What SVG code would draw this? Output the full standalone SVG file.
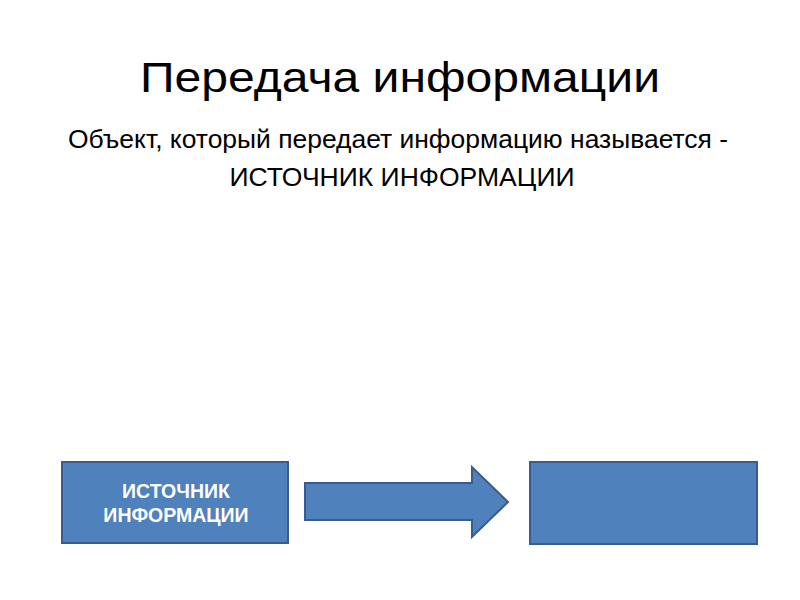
<svg xmlns="http://www.w3.org/2000/svg" width="800" height="600" viewBox="0 0 800 600">
<style>
.t{font-family:"Liberation Sans",Arial,sans-serif;fill:#000}
.shape{fill:#4F81BD;stroke:#385D8A;stroke-width:2}
.lbl{font-family:"Liberation Sans",Arial,sans-serif;font-weight:bold;font-size:19.5px;fill:#fff;text-anchor:middle}
</style>
<rect width="800" height="600" fill="#fff"/>
<text class="t" x="400" y="92" font-size="42" text-anchor="middle" textLength="520" lengthAdjust="spacingAndGlyphs">Передача информации</text>
<text class="t" x="68" y="148" font-size="25" textLength="660" lengthAdjust="spacingAndGlyphs">Объект, который передает информацию называется  -</text>
<text class="t" x="402" y="186" font-size="25" text-anchor="middle" textLength="345" lengthAdjust="spacingAndGlyphs">ИСТОЧНИК ИНФОРМАЦИИ</text>
<g id="source">
<rect class="shape" x="62" y="462" width="226" height="81"/>
<text class="lbl" x="176" y="498">ИСТОЧНИК</text>
<text class="lbl" x="176" y="522">ИНФОРМАЦИИ</text>
</g>
<g id="connectors">
<path class="shape" d="M305,483 H472 V467 L508,502 L472,537 V520 H305 Z"/>
</g>
<g id="receiver">
<rect class="shape" x="530" y="462" width="227" height="82"/>
</g>
</svg>
